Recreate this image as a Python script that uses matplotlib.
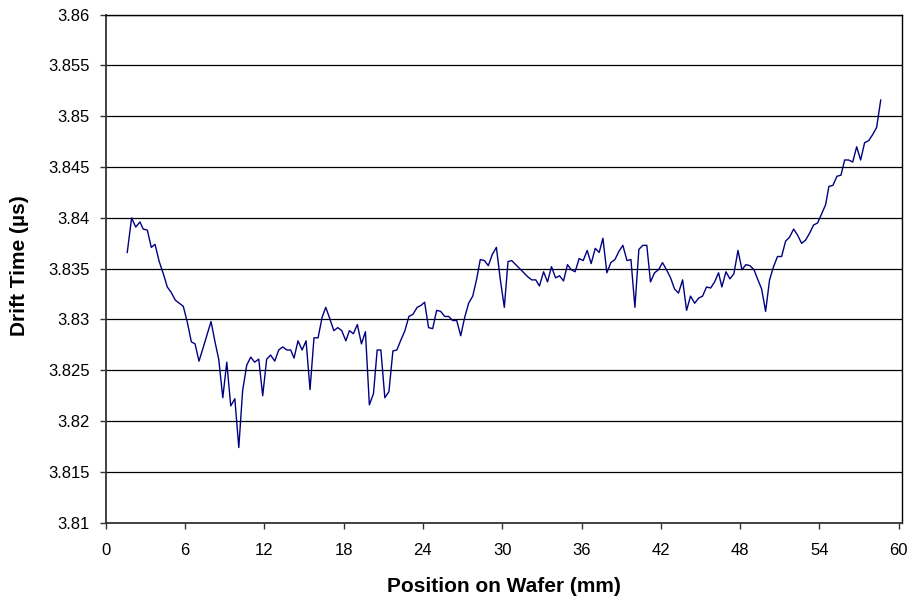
import matplotlib
matplotlib.use("Agg")
import matplotlib.pyplot as plt

plt.rcParams['font.family'] = ['Liberation Sans', 'DejaVu Sans']

position_mm = [
    1.63, 1.96, 2.27, 2.59, 2.84, 3.15, 3.45, 3.73, 4.05, 4.36,
    4.66, 4.94, 5.27, 5.57, 5.87, 6.18, 6.48, 6.76, 7.06, 7.39,
    7.97, 8.27, 8.55, 8.86, 9.16, 9.46, 9.77, 10.07, 10.36, 10.67,
    10.97, 11.27, 11.58, 11.88, 12.18, 12.48, 12.79, 13.09, 13.39, 13.70,
    14.00, 14.25, 14.55, 14.86, 15.16, 15.46, 15.76, 16.07, 16.37, 16.65,
    16.95, 17.26, 17.56, 17.86, 18.17, 18.44, 18.74, 19.04, 19.35, 19.65,
    19.95, 20.26, 20.54, 20.82, 21.12, 21.43, 21.73, 22.03, 22.34, 22.64,
    22.94, 23.24, 23.57, 23.87, 24.13, 24.43, 24.74, 25.04, 25.34, 25.65,
    25.95, 26.25, 26.56, 26.86, 27.16, 27.46, 27.77, 28.07, 28.34, 28.65,
    28.95, 29.25, 29.56, 29.86, 30.16, 30.44, 30.72, 31.03, 31.33, 31.63,
    31.94, 32.24, 32.54, 32.82, 33.13, 33.43, 33.73, 34.04, 34.34, 34.64,
    34.94, 35.22, 35.52, 35.82, 36.13, 36.43, 36.73, 37.04, 37.34, 37.62,
    37.92, 38.22, 38.53, 38.83, 39.13, 39.44, 39.74, 40.04, 40.34, 40.64,
    40.94, 41.22, 41.53, 41.83, 42.13, 42.43, 42.74, 43.04, 43.34, 43.65,
    43.95, 44.25, 44.56, 44.86, 45.16, 45.46, 45.77, 46.07, 46.37, 46.62,
    46.93, 47.23, 47.53, 47.84, 48.14, 48.44, 48.74, 49.05, 49.35, 49.63,
    49.93, 50.23, 50.53, 50.83, 51.14, 51.44, 51.74, 52.05, 52.35, 52.65,
    52.95, 53.26, 53.56, 53.86, 54.17, 54.47, 54.72, 55.02, 55.33, 55.63,
    55.91, 56.21, 56.52, 56.82, 57.12, 57.42, 57.73, 58.03, 58.33, 58.64,
]

drift_time_us = [
    3.8366, 3.8400, 3.8391, 3.8396, 3.8389, 3.8388, 3.8371, 3.8374, 3.8357, 3.8345,
    3.8332, 3.8327, 3.8319, 3.8316, 3.8313, 3.8297, 3.8278, 3.8276, 3.8259, 3.8273,
    3.8298, 3.8278, 3.8261, 3.8223, 3.8258, 3.8215, 3.8222, 3.8174, 3.8230, 3.8255,
    3.8263, 3.8258, 3.8261, 3.8225, 3.8261, 3.8265, 3.8259, 3.8270, 3.8273, 3.8270,
    3.8270, 3.8262, 3.8279, 3.8270, 3.8279, 3.8231, 3.8282, 3.8282, 3.8302, 3.8312,
    3.8301, 3.8289, 3.8292, 3.8289, 3.8279, 3.8289, 3.8286, 3.8295, 3.8276, 3.8288,
    3.8216, 3.8227, 3.8270, 3.8270, 3.8223, 3.8229, 3.8269, 3.8270, 3.8280, 3.8289,
    3.8303, 3.8305, 3.8312, 3.8314, 3.8317, 3.8292, 3.8291, 3.8309, 3.8308, 3.8303,
    3.8303, 3.8299, 3.8299, 3.8284, 3.8302, 3.8316, 3.8323, 3.8340, 3.8359, 3.8358,
    3.8353, 3.8364, 3.8371, 3.8339, 3.8312, 3.8357, 3.8358, 3.8354, 3.8350, 3.8346,
    3.8342, 3.8339, 3.8339, 3.8333, 3.8347, 3.8337, 3.8352, 3.8341, 3.8343, 3.8338,
    3.8354, 3.8349, 3.8347, 3.8360, 3.8358, 3.8368, 3.8355, 3.8370, 3.8366, 3.8380,
    3.8346, 3.8356, 3.8359, 3.8367, 3.8373, 3.8358, 3.8359, 3.8312, 3.8369, 3.8373,
    3.8373, 3.8337, 3.8346, 3.8349, 3.8356, 3.8349, 3.8341, 3.8330, 3.8326, 3.8339,
    3.8309, 3.8323, 3.8316, 3.8321, 3.8323, 3.8332, 3.8331, 3.8337, 3.8346, 3.8332,
    3.8347, 3.8340, 3.8345, 3.8368, 3.8349, 3.8354, 3.8353, 3.8349, 3.8339, 3.8330,
    3.8308, 3.8339, 3.8352, 3.8362, 3.8362, 3.8377, 3.8381, 3.8389, 3.8383, 3.8375,
    3.8378, 3.8385, 3.8393, 3.8395, 3.8404, 3.8413, 3.8431, 3.8432, 3.8441, 3.8442,
    3.8457, 3.8457, 3.8455, 3.8470, 3.8457, 3.8474, 3.8476, 3.8482, 3.8489, 3.8516,
]

x_ticks = [0, 6, 12, 18, 24, 30, 36, 42, 48, 54, 60]
y_ticks = [3.81, 3.815, 3.82, 3.825, 3.83, 3.835, 3.84, 3.845, 3.85, 3.855, 3.86]
y_tick_labels = ['3.81', '3.815', '3.82', '3.825', '3.83', '3.835', '3.84', '3.845', '3.85', '3.855', '3.86']
x_label = 'Position on Wafer (mm)'
y_label = 'Drift Time (µs)'

W, H = 917, 602
fig = plt.figure(figsize=(W / 100, H / 100), dpi=100)
ax = fig.add_axes([105.7 / W, 1 - 522.7 / H, (902.3 - 105.7) / W, (522.7 - 14.7) / H])

ax.plot(position_mm, drift_time_us, color='#000080', linewidth=1.0, zorder=3)

ax.set_xlim(0, 60 * (902.3 - 105.7) / (898.7 - 105.7))
ax.set_ylim(3.81, 3.86)
ax.set_xticks(x_ticks)
ax.set_xticklabels([str(t) for t in x_ticks])
ax.set_yticks(y_ticks)
ax.set_yticklabels(y_tick_labels)

ax.grid(axis='y', color='black', linewidth=0.9, zorder=1)
ax.set_axisbelow(True)

for side in ['left', 'bottom']:
    ax.spines[side].set_color('#333333')
    ax.spines[side].set_linewidth(1.3)
for side in ['right', 'top']:
    ax.spines[side].set_color('black')
    ax.spines[side].set_linewidth(1.0)

ax.tick_params(axis='both', direction='out', length=4.3, width=1, color='#333333',
               labelsize=12, labelcolor='black')
ax.tick_params(axis='y', pad=7)
ax.tick_params(axis='x', pad=10)

fig.text(504 / W, 1 - 586 / H, x_label, ha='center', va='center',
         fontsize=15, fontweight='bold')
fig.text(20 / W, 1 - 266 / H, y_label, ha='center', va='center',
         rotation=90, fontsize=15, fontweight='bold')

fig.savefig('out.png', dpi=100)
